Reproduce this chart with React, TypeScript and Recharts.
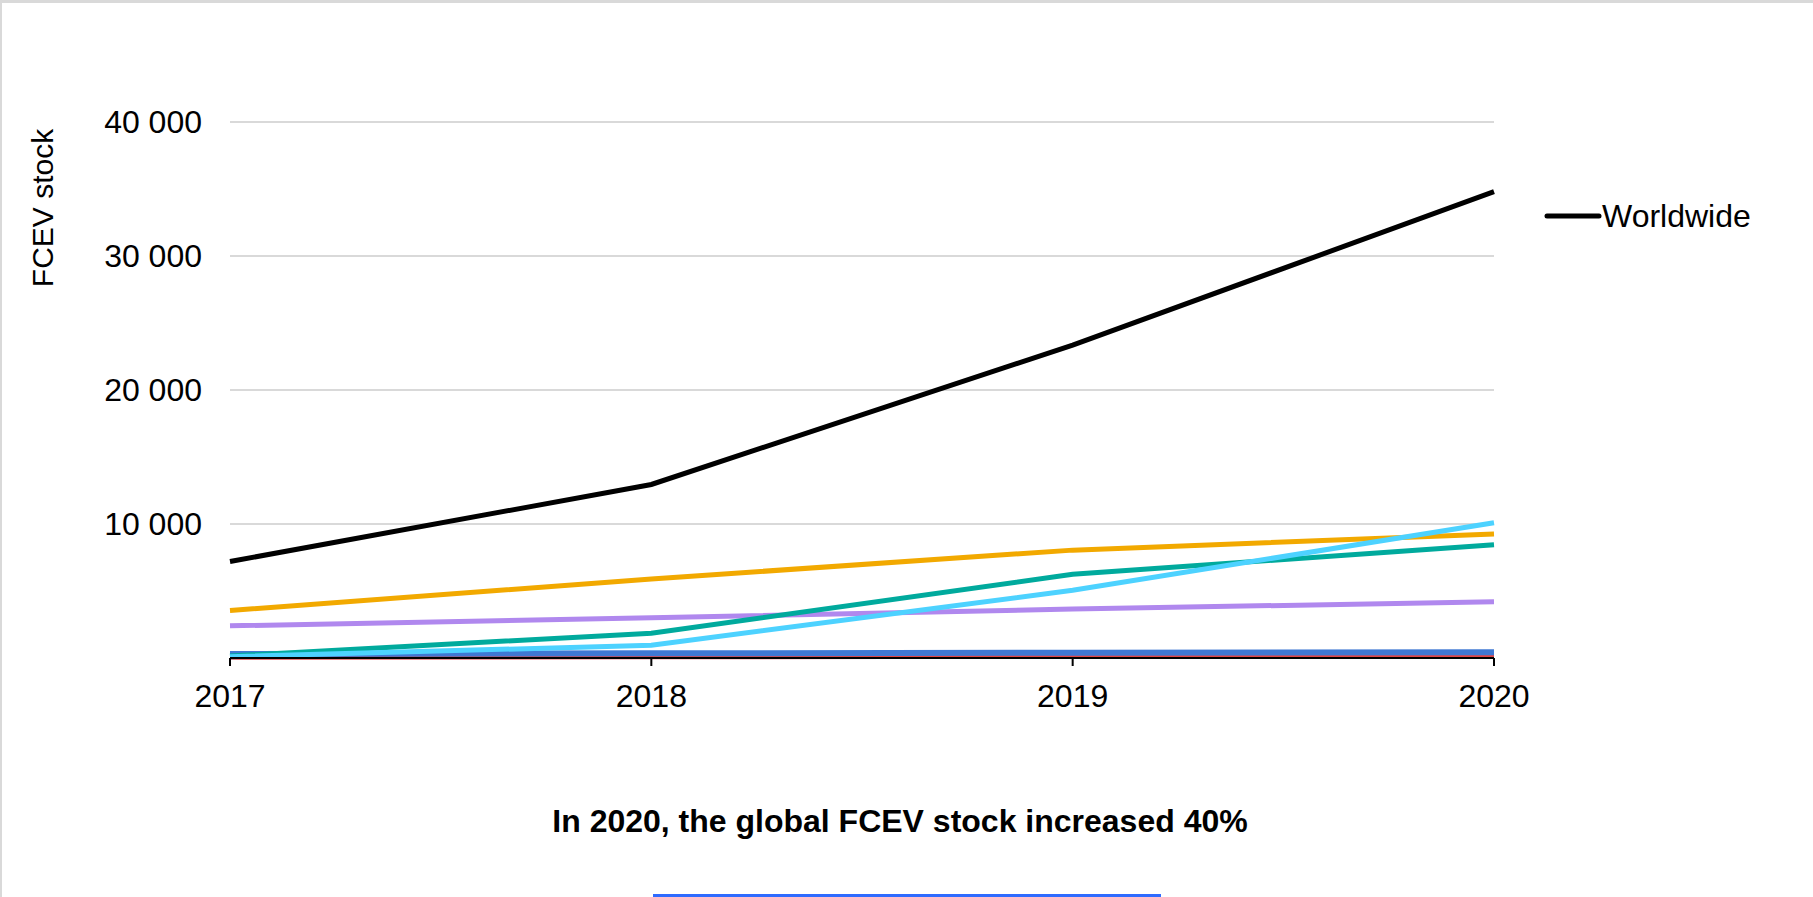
import React from "react";
import {
  LineChart,
  Line,
  XAxis,
  YAxis,
  CartesianGrid,
  Legend,
} from "recharts";

const years = ["2017", "2018", "2019", "2020"];
const worldwide = [7200, 12950, 23350, 34800];
const unitedStates = [3550, 5900, 8050, 9250];
const china = [150, 1850, 6250, 8450];
const korea = [100, 950, 5050, 10100];
const japan = [2400, 3000, 3650, 4200];
const europe = [300, 350, 400, 430];
const other = [20, 50, 100, 150];
const yTicks = [10000, 20000, 30000, 40000];

const FONT = "'Liberation Sans', Arial, sans-serif";

const data = years.map((year, i) => ({
  year,
  worldwide: worldwide[i],
  us: unitedStates[i],
  china: china[i],
  korea: korea[i],
  japan: japan[i],
  europe: europe[i],
  other: other[i],
}));

// tick labels use a space as thousands separator
const formatTick = (v: number) =>
  v.toString().replace(/\B(?=(\d{3})+(?!\d))/g, " ");

const LegendContent = () => (
  <div style={{ display: "flex", alignItems: "center", fontFamily: FONT }}>
    <svg width={58} height={10}>
      <line x1={3} y1={5} x2={55} y2={5} stroke="#000" strokeWidth={5} strokeLinecap="round" />
    </svg>
    <span style={{ fontSize: 32, color: "#000", lineHeight: "32px" }}>Worldwide</span>
  </div>
);

const App: React.FC = () => {
  return (
    <div
      style={{
        position: "absolute",
        left: 0,
        top: 0,
        width: 1813,
        height: 897,
        background: "#fff",
        borderTop: "3px solid #d9d9d9",
        borderLeft: "2px solid #d9d9d9",
        boxSizing: "border-box",
        overflow: "hidden",
        fontFamily: FONT,
      }}
    >
      <div style={{ position: "absolute", left: -2, top: -3 }}>
        <LineChart
          width={1813}
          height={760}
          data={data}
          margin={{ top: 122, right: 319, left: 0, bottom: 0 }}
        >
          <CartesianGrid vertical={false} stroke="#d9d9d9" strokeWidth={2} />
          <XAxis
            dataKey="year"
            height={102}
            stroke="#000"
            strokeWidth={2}
            tickSize={8}
            tickMargin={18}
            tick={{ fill: "#000", fontSize: 32, fontFamily: FONT }}
          />
          <YAxis
            width={230}
            domain={[0, 40000]}
            ticks={yTicks}
            axisLine={false}
            tickLine={false}
            tickSize={0}
            tickMargin={28}
            tickFormatter={formatTick}
            tick={{ fill: "#000", fontSize: 32, fontFamily: FONT }}
          />
          <Legend
            layout="horizontal"
            align="center"
            verticalAlign="middle"
            content={LegendContent}
            wrapperStyle={{ left: 1544, top: 200, width: 260 }}
          />
          <Line type="linear" dataKey="other" stroke="#e04646" strokeWidth={4} dot={false} legendType="none" isAnimationActive={false} />
          <Line type="linear" dataKey="europe" stroke="#3f78d3" strokeWidth={6} dot={false} legendType="none" isAnimationActive={false} />
          <Line type="linear" dataKey="japan" stroke="#b088ee" strokeWidth={5} dot={false} legendType="none" isAnimationActive={false} />
          <Line type="linear" dataKey="china" stroke="#00aa9d" strokeWidth={5} dot={false} legendType="none" isAnimationActive={false} />
          <Line type="linear" dataKey="us" stroke="#f2a900" strokeWidth={5} dot={false} legendType="none" isAnimationActive={false} />
          <Line type="linear" dataKey="korea" stroke="#4dd2ff" strokeWidth={5} dot={false} legendType="none" isAnimationActive={false} />
          <Line type="linear" dataKey="worldwide" name="Worldwide" stroke="#000" strokeWidth={5} dot={false} isAnimationActive={false} />
        </LineChart>
      </div>

      <div
        style={{
          position: "absolute",
          left: 41,
          top: 205,
          transform: "translate(-50%, -50%) rotate(-90deg)",
          whiteSpace: "nowrap",
          fontSize: 30,
          color: "#000",
        }}
      >
        FCEV stock
      </div>

      <div
        style={{
          position: "absolute",
          left: 0,
          width: 1796,
          top: 799,
          textAlign: "center",
          fontSize: 32,
          fontWeight: "bold",
          color: "#000",
          lineHeight: "38px",
        }}
      >
        In 2020, the global FCEV stock increased 40%
      </div>

      <div
        style={{
          position: "absolute",
          left: 651,
          top: 891,
          width: 508,
          height: 3,
          background: "#2f6bff",
        }}
      />
    </div>
  );
};

export default App;
